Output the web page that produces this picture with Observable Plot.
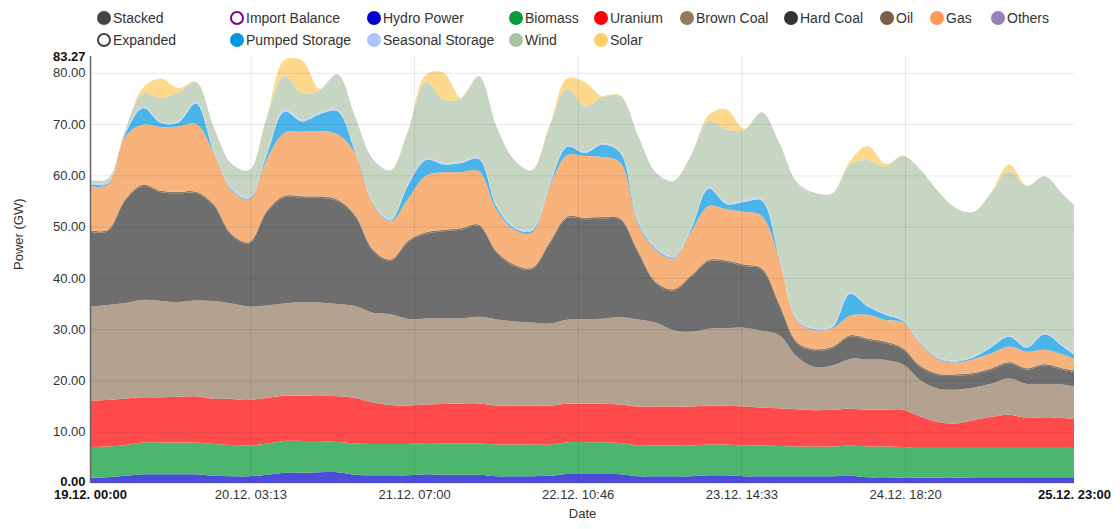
<!DOCTYPE html>
<html><head><meta charset="utf-8">
<script src="https://cdn.jsdelivr.net/npm/d3@7"></script>
<script src="https://cdn.jsdelivr.net/npm/@observablehq/plot@0.6"></script>
<style>
body{margin:0;background:#fff;font-family:"Liberation Sans",Arial,sans-serif;}
#legend{position:relative;height:48px;width:1120px;font-size:14px;color:#333;}
.item{position:absolute;height:16px;display:flex;align-items:center;white-space:nowrap;}
.dot{width:14px;height:14px;border-radius:50%;box-sizing:border-box;margin-right:2px;flex:none;}
</style></head><body>
<div id="legend"></div><div id="chart"></div>
<script>
// ---- data ----
const hours = [0,3,6,9,12,15,18,21,24,27,30,33,36,39,42,45,48,51,54,57,60,63,66,69,72,75,78,81,84,87,90,93,96,99,102,105,108,111,114,117,120,123,126,129,132,135,138,141,144,147,150,153,156,159,162,165,167];
const hydro = [1.0,1.1,1.4,1.7,1.7,1.7,1.7,1.4,1.3,1.3, 1.6,2.0,2.0,2.1,2.1,1.6,1.5,1.5,1.5,1.7, 1.6,1.6,1.6,1.3,1.3,1.3,1.4,1.75,1.75,1.75, 1.7,1.3,1.3,1.3,1.3,1.5,1.5,1.3,1.3,1.3, 1.3,1.3,1.3,1.4,1.1,1.1,1.0,1.0,1.0,1.0, 1.1,1.1,1.1,1.1,1.1,1.1,1.1];
const biomass = [6.0,6.0,6.0,6.2,6.2,6.2,6.2,6.2,6.1,6.0, 6.1,6.2,6.2,6.1,5.9,6.1,6.1,6.1,6.1,6.1, 6.1,6.1,6.1,6.2,6.2,6.2,6.1,6.2,6.2,6.2, 6.1,6.0,6.0,6.0,6.0,6.0,6.0,6.0,6.0,5.9, 5.8,5.8,5.8,5.9,6.0,6.0,6.0,6.0,6.0,6.0, 5.9,5.9,5.9,5.9,5.9,5.9,5.9];
const uranium = [9.1,9.1,9.1,8.8,8.8,8.9,9.0,8.8,9.0,8.9, 8.9,8.8,8.8,8.9,8.9,8.9,8.1,7.6,7.5,7.5, 7.7,7.8,7.8,7.6,7.6,7.6,7.6,7.5,7.5,7.5, 7.5,7.6,7.6,7.6,7.6,7.6,7.6,7.6,7.4,7.4, 7.3,7.1,7.2,7.2,7.2,7.2,7.3,5.9,4.9,4.6, 5.3,5.9,6.3,5.7,5.8,5.7,5.5];
const brownCoal = [18.3,18.5,18.6,19.0,18.8,18.5,18.7,19.1,18.6,18.2, 18.0,18.0,18.3,18.1,18.0,17.9,17.5,17.7,16.9,16.8, 16.8,16.6,16.9,16.8,16.4,16.2,16.0,16.4,16.5,16.6, 17.0,17.0,16.4,14.9,14.6,15.0,15.1,15.4,15.0,14.2, 10.2,8.4,8.6,9.7,9.8,9.7,8.8,7.1,6.5,6.6, 6.3,6.5,7.1,6.6,6.5,6.5,6.3];
const hardCoal = [14.6,14.4,20.0,22.2,21.2,21.2,20.9,18.6,13.3,12.3, 18.2,20.7,20.3,20.4,20.1,17.5,12.1,10.4,15.0,16.5, 16.9,17.3,17.7,13.0,10.8,10.4,15.6,19.8,19.5,19.5, 19.0,13.1,7.7,7.7,10.7,13.1,12.9,12.0,11.9,5.8, 2.6,3.2,3.4,4.3,3.8,3.3,2.9,2.5,2.6,2.7, 2.6,2.7,2.9,2.8,3.6,2.9,2.9];
const oil = [0.3,0.3,0.3,0.3,0.3,0.3,0.3,0.3,0.3,0.3, 0.3,0.3,0.3,0.3,0.3,0.3,0.3,0.3,0.3,0.3, 0.3,0.3,0.3,0.3,0.3,0.3,0.3,0.3,0.3,0.3, 0.3,0.3,0.3,0.3,0.3,0.3,0.3,0.3,0.3,0.3, 0.3,0.3,0.3,0.3,0.3,0.3,0.3,0.3,0.3,0.3, 0.3,0.3,0.3,0.3,0.3,0.3,0.3];
const gas = [8.6,8.7,12.2,11.7,12.4,12.7,13.2,10.0,8.6,8.3, 10.0,12.3,12.6,12.7,12.7,12.0,8.9,7.4,8.2,11.0, 11.2,10.9,10.4,8.1,6.8,6.8,10.7,12.0,12.0,11.7, 10.9,5.2,6.2,6.0,8.5,10.5,10.0,10.3,10.2,8.6, 4.1,3.7,3.6,3.8,4.6,4.2,5.0,4.2,2.8,2.3, 2.7,2.9,3.0,3.2,2.8,2.7,2.2];
const pumpedStorage = [0.4,0.3,0.6,3.2,0.8,0.8,4.0,0.2,0.2,0.2, 0.9,4.1,2.0,3.3,4.5,0.3,0.2,0.2,2.6,3.1, 1.5,1.8,2.4,0.6,0.3,0.4,0.3,1.6,0.6,2.4, 1.9,0.4,0.3,0.2,0.5,3.4,1.0,1.9,3.0,0.3, 0.2,0.2,0.2,4.3,1.6,1.0,0.3,0.2,0.2,0.2, 0.3,1.2,1.9,0.8,3.0,1.6,0.8];
const seasonalStorage = [0.3,0.3,0.3,0.4,0.3,0.3,0.4,0.3,0.3,0.3, 0.3,0.4,0.4,0.4,0.4,0.3,0.3,0.3,0.3,0.3, 0.3,0.3,0.3,0.3,0.3,0.3,0.3,0.3,0.3,0.3, 0.3,0.3,0.3,0.3,0.3,0.3,0.3,0.3,0.3,0.2, 0.2,0.2,0.2,0.3,0.2,0.2,0.2,0.2,0.2,0.2, 0.2,0.2,0.2,0.2,0.2,0.2,0.2];
const wind = [0.5,0.6,0.4,2.5,4.6,5.6,3.8,4.5,4.6,5.2, 7.0,6.7,5.1,4.4,6.8,6.5,8.2,9.5,10.4,15.0, 12.4,12.4,15.8,15.3,13.0,11.5,11.3,11.1,8.8,9.1, 10.8,16.6,14.5,14.6,14.1,12.9,14.3,13.7,16.9,22.3, 26.6,26.4,25.9,24.9,28.4,28.7,32.0,33.6,32.3,29.7, 28.2,30.0,32.1,31.3,30.6,29.5,29.0];
const solar = [0,0,0,1.1,3.8,0.8,0,0,0,0, 0,3.0,6.4,0.2,0,0,0,0,0,1.3, 5.2,0,0,0,0,0,0,2.0,4.7,0, 0,0,0,0,0,1.1,3.9,0.3,0,0, 0,0,0,0.7,2.7,0.5,0,0,0,0, 0,0.1,1.3,0.1,0,0,0];

const seriesNames = ["Hydro Power","Biomass","Uranium","Brown Coal","Hard Coal","Oil","Gas","Pumped Storage","Seasonal Storage","Wind","Solar"];
const seriesValues = [hydro,biomass,uranium,brownCoal,hardCoal,oil,gas,pumpedStorage,seasonalStorage,wind,solar];
const fillColors = ["#4c4cd6","#4cb66e","#ff4b4b","#b4a290","#6e6e6e","#8c7a66","#f8b27c","#4bb4e8","#c7d4f7","#c7d6c3","#fed98c"];

const yTicks = [0,10,20,30,40,50,60,70,80];
const yMax = 83.27;
const xTickHours = [0,27.22,55,82.77,110.55,138.33,167];
const xTickLabels = ["19.12. 00:00","20.12. 03:13","21.12. 07:00","22.12. 10:46","23.12. 14:33","24.12. 18:20","25.12. 23:00"];

const legendNames = ["Stacked","Import Balance","Hydro Power","Biomass","Uranium","Brown Coal","Hard Coal","Oil","Gas","Others","Expanded","Pumped Storage","Seasonal Storage","Wind","Solar"];
const legendColors = ["#444444","#800080","#0000cc","#0a9a3c","#ff0000","#937a61","#333333","#7b5e45","#ff9a55","#9a80b8","#444444","#0099e0","#aac6ff","#a9c4a4","#ffcf66"];
const legendHollow = [false,true,false,false,false,false,false,false,false,false,true,false,false,false,false];

// ---- legend layout ----
const legendCx = [104,237,374,516,601,687,791,887,937,998,104,237,374,516,601];
const legendCy = [18,18,18,18,18,18,18,18,18,18,40,40,40,40,40];
const lg = document.getElementById("legend");
legendNames.forEach((n,i)=>{
  const it = document.createElement("div");
  it.className = "item";
  it.style.left = (legendCx[i]-7)+"px";
  it.style.top = (legendCy[i]-8)+"px";
  const dot = document.createElement("span");
  dot.className = "dot";
  if (legendHollow[i]) { dot.style.border = "2.5px solid "+legendColors[i]; dot.style.background="#fff"; }
  else dot.style.background = legendColors[i];
  const t = document.createElement("span");
  t.textContent = n;
  it.appendChild(dot); it.appendChild(t);
  lg.appendChild(it);
});

// ---- chart ----
const rows = [];
seriesNames.forEach((name,si)=>hours.forEach((h,i)=>rows.push({h, series:name, value:seriesValues[si][i]})));
const labelOf = d => xTickLabels[xTickHours.indexOf(d)];

const chart = Plot.plot({
  width: 1120, height: 481,
  marginTop: 8, marginBottom: 46, marginLeft: 90, marginRight: 46,
  style: {fontFamily: "Liberation Sans, Arial, sans-serif", fontSize: "13px", color: "#333", background: "#fff", overflow: "visible"},
  x: {domain: [0,167], axis: null},
  y: {domain: [0,yMax], axis: null},
  color: {domain: seriesNames, range: fillColors},
  marks: [
    Plot.areaY(rows, {x:"h", y:"value", z:"series", fill:"series", order: seriesNames, curve:"catmull-rom"}),
    Plot.ruleY(yTicks, {stroke:"#000", strokeOpacity:0.09}),
    Plot.ruleX(xTickHours.slice(1,-1), {stroke:"#000", strokeOpacity:0.09}),
    Plot.ruleX([0], {y1:0, y2:yMax, stroke:"#666", strokeWidth:1.5}),
    Plot.axisY(yTicks.slice(1), {tickSize:0, tickPadding:5, tickFormat:d3.format(".2f"), label:null, fill:"#333"}),
    Plot.axisY([0], {tickSize:0, tickPadding:5, tickFormat:d3.format(".2f"), label:null, fill:"#111", fontWeight:"bold", dy:-2}),
    Plot.axisY([yMax], {tickSize:0, tickPadding:5, tickFormat:d=>d.toFixed(2), label:null, fontWeight:"bold", fill:"#111"}),
    Plot.axisX(xTickHours.slice(1,-1), {tickSize:0, tickPadding:6, tickFormat:labelOf, label:null, fill:"#333"}),
    Plot.axisX([xTickHours[0], xTickHours[6]], {tickSize:0, tickPadding:6, tickFormat:labelOf, label:null, fontWeight:"bold", fill:"#111"}),
    Plot.text(["Date"], {frameAnchor:"bottom", dy:34, text:d=>d, fill:"#333", fontSize:13}),
    Plot.text(["Power (GW)"], {frameAnchor:"left", dx:-72, rotate:-90, text:d=>d, fill:"#333", fontSize:13})
  ]
});
document.getElementById("chart").appendChild(chart);
</script>
</body></html>
